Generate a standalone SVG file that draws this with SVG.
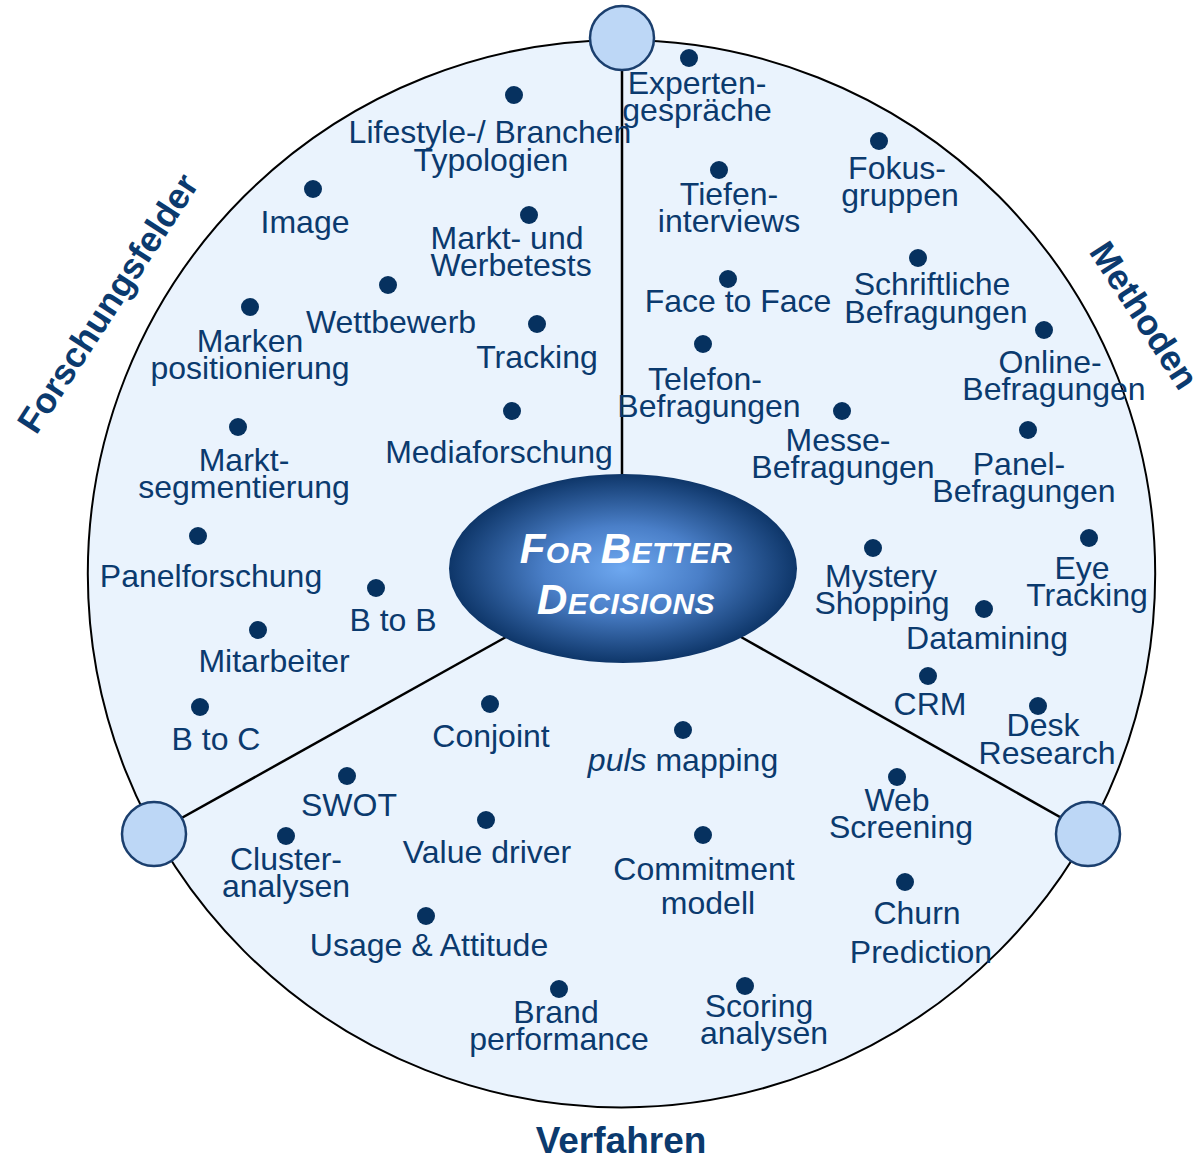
<svg xmlns="http://www.w3.org/2000/svg" width="1203" height="1159" viewBox="0 0 1203 1159">
<defs>
<radialGradient id="eg" cx="50%" cy="50%" r="50%">
<stop offset="0" stop-color="#6EA8F0"/>
<stop offset="0.45" stop-color="#4A7FC8"/>
<stop offset="1" stop-color="#0E3669"/>
</radialGradient>
<style>
.t{font-family:"Liberation Sans",Arial,sans-serif;font-size:32px;fill:#0B3A6E;text-anchor:middle}
.h{font-family:"Liberation Sans",Arial,sans-serif;font-size:37px;font-weight:bold;fill:#0B3A6E;text-anchor:middle}
.r{font-size:35.5px}
.d{fill:#06315F}
.sc{fill:#BDD7F6;stroke:#1B3F6E;stroke-width:2.5}
.ln{stroke:#000;stroke-width:2.5;fill:none}
.c{font-family:"Liberation Sans",Arial,sans-serif;font-weight:bold;font-style:italic;fill:#fff;text-anchor:middle;letter-spacing:0.5px}
</style>
</defs>
<rect width="1203" height="1159" fill="#fff"/>
<circle id="outer" cx="621.5" cy="573.7" r="533.7" fill="#EAF3FD" stroke="#000" stroke-width="2"/>
<g id="connectors">
<line class="ln" x1="622" y1="60" x2="622" y2="476"/>
<line class="ln" x1="506" y1="637" x2="160" y2="830"/>
<line class="ln" x1="741" y1="637" x2="1083" y2="830"/>
</g>
<g id="hub-top"><circle class="sc" cx="622" cy="38" r="32"/></g>
<g id="hub-left"><circle class="sc" cx="154" cy="834" r="32"/></g>
<g id="hub-right"><circle class="sc" cx="1088" cy="834" r="32"/></g>
<g id="center">
<ellipse cx="623" cy="568.5" rx="174" ry="94.5" fill="url(#eg)"/>
<text class="c" x="626" y="563"><tspan font-size="42">F</tspan><tspan font-size="30">OR </tspan><tspan font-size="42">B</tspan><tspan font-size="30">ETTER</tspan></text>
<text class="c" x="626" y="614"><tspan font-size="42">D</tspan><tspan font-size="30">ECISIONS</tspan></text>
</g>
<g id="labels">
<text class="h r" transform="translate(118,310) rotate(-57)">Forschungsfelder</text>
<text class="h r" transform="translate(1134,322) rotate(57)">Methoden</text>
<text class="h" x="621" y="1153">Verfahren</text>
</g>
<g id="forschungsfelder">
<g id="n-lifestyle"><circle class="d" cx="514" cy="95" r="9"/><text class="t" x="490" y="143">Lifestyle-/ Branchen</text><text class="t" x="491" y="171">Typologien</text></g>
<g id="n-image"><circle class="d" cx="313" cy="189" r="9"/><text class="t" x="305" y="233">Image</text></g>
<g id="n-markttests"><circle class="d" cx="529" cy="215" r="9"/><text class="t" x="507" y="249">Markt- und</text><text class="t" x="511" y="276">Werbetests</text></g>
<g id="n-wettbewerb"><circle class="d" cx="388" cy="285" r="9"/><text class="t" x="391" y="333">Wettbewerb</text></g>
<g id="n-marken"><circle class="d" cx="250" cy="307" r="9"/><text class="t" x="250" y="352">Marken</text><text class="t" x="250" y="379">positionierung</text></g>
<g id="n-tracking"><circle class="d" cx="537" cy="324" r="9"/><text class="t" x="537" y="368">Tracking</text></g>
<g id="n-media"><circle class="d" cx="512" cy="411" r="9"/><text class="t" x="499" y="463">Mediaforschung</text></g>
<g id="n-segment"><circle class="d" cx="238" cy="427" r="9"/><text class="t" x="244" y="471">Markt-</text><text class="t" x="244" y="498">segmentierung</text></g>
<g id="n-panelf"><circle class="d" cx="198" cy="536" r="9"/><text class="t" x="211" y="587">Panelforschung</text></g>
<g id="n-btob"><circle class="d" cx="376" cy="588" r="9"/><text class="t" x="393" y="631">B to B</text></g>
<g id="n-mitarbeiter"><circle class="d" cx="258" cy="630" r="9"/><text class="t" x="274" y="672">Mitarbeiter</text></g>
<g id="n-btoc"><circle class="d" cx="200" cy="707" r="9"/><text class="t" x="216" y="750">B to C</text></g>
</g>
<g id="methoden">
<g id="n-experten"><circle class="d" cx="689" cy="58" r="9"/><text class="t" x="697" y="94">Experten-</text><text class="t" x="697" y="121">gespräche</text></g>
<g id="n-fokus"><circle class="d" cx="879" cy="141" r="9"/><text class="t" x="897" y="179">Fokus-</text><text class="t" x="900" y="206">gruppen</text></g>
<g id="n-tiefen"><circle class="d" cx="719" cy="170" r="9"/><text class="t" x="729" y="205">Tiefen-</text><text class="t" x="729" y="232">interviews</text></g>
<g id="n-face"><circle class="d" cx="728" cy="279" r="9"/><text class="t" x="738" y="312">Face to Face</text></g>
<g id="n-schriftl"><circle class="d" cx="918" cy="258" r="9"/><text class="t" x="932" y="295">Schriftliche</text><text class="t" x="936" y="323">Befragungen</text></g>
<g id="n-online"><circle class="d" cx="1044" cy="330" r="9"/><text class="t" x="1050" y="373">Online-</text><text class="t" x="1054" y="400">Befragungen</text></g>
<g id="n-telefon"><circle class="d" cx="703" cy="344" r="9"/><text class="t" x="705" y="390">Telefon-</text><text class="t" x="709" y="417">Befragungen</text></g>
<g id="n-messe"><circle class="d" cx="842" cy="411" r="9"/><text class="t" x="838" y="451">Messe-</text><text class="t" x="843" y="478">Befragungen</text></g>
<g id="n-panelb"><circle class="d" cx="1028" cy="430" r="9"/><text class="t" x="1019" y="475">Panel-</text><text class="t" x="1024" y="502">Befragungen</text></g>
<g id="n-eye"><circle class="d" cx="1089" cy="538" r="9"/><text class="t" x="1082" y="579">Eye</text><text class="t" x="1087" y="606">Tracking</text></g>
<g id="n-mystery"><circle class="d" cx="873" cy="548" r="9"/><text class="t" x="881" y="587">Mystery</text><text class="t" x="882" y="614">Shopping</text></g>
<g id="n-datamining"><circle class="d" cx="984" cy="609" r="9"/><text class="t" x="987" y="649">Datamining</text></g>
<g id="n-crm"><circle class="d" cx="928" cy="676" r="9"/><text class="t" x="930" y="715">CRM</text></g>
<g id="n-desk"><circle class="d" cx="1038" cy="706" r="9"/><text class="t" x="1043" y="736">Desk</text><text class="t" x="1047" y="764">Research</text></g>
</g>
<g id="verfahren">
<g id="n-conjoint"><circle class="d" cx="490" cy="704" r="9"/><text class="t" x="491" y="747">Conjoint</text></g>
<g id="n-puls"><circle class="d" cx="683" cy="730" r="9"/><text class="t" x="683" y="771"><tspan font-style="italic">puls</tspan> mapping</text></g>
<g id="n-swot"><circle class="d" cx="347" cy="776" r="9"/><text class="t" x="349" y="816">SWOT</text></g>
<g id="n-web"><circle class="d" cx="897" cy="777" r="9"/><text class="t" x="897" y="811">Web</text><text class="t" x="901" y="838">Screening</text></g>
<g id="n-value"><circle class="d" cx="486" cy="820" r="9"/><text class="t" x="487" y="863">Value driver</text></g>
<g id="n-cluster"><circle class="d" cx="286" cy="836" r="9"/><text class="t" x="286" y="870">Cluster-</text><text class="t" x="286" y="897">analysen</text></g>
<g id="n-commit"><circle class="d" cx="703" cy="835" r="9"/><text class="t" x="704" y="880">Commitment</text><text class="t" x="708" y="914">modell</text></g>
<g id="n-churn"><circle class="d" cx="905" cy="882" r="9"/><text class="t" x="917" y="924">Churn</text><text class="t" x="921" y="963">Prediction</text></g>
<g id="n-usage"><circle class="d" cx="426" cy="916" r="9"/><text class="t" x="429" y="956">Usage &amp; Attitude</text></g>
<g id="n-brand"><circle class="d" cx="559" cy="989" r="9"/><text class="t" x="556" y="1023">Brand</text><text class="t" x="559" y="1050">performance</text></g>
<g id="n-scoring"><circle class="d" cx="745" cy="986" r="9"/><text class="t" x="759" y="1017">Scoring</text><text class="t" x="764" y="1044">analysen</text></g>
</g>
</svg>
